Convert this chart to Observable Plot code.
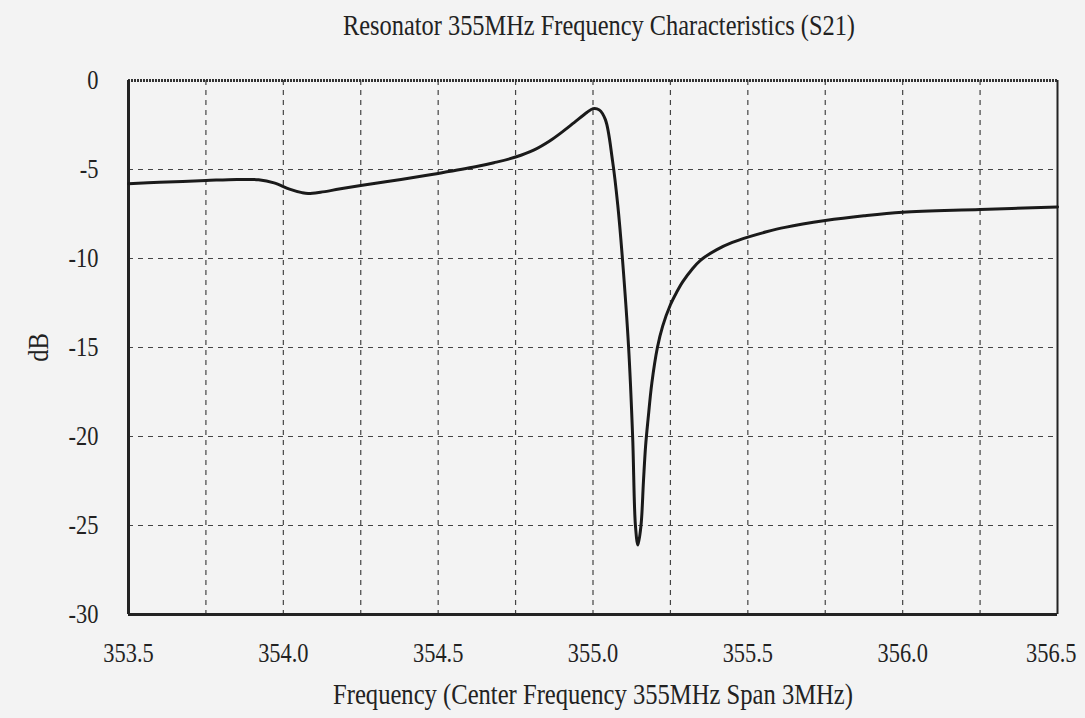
<!DOCTYPE html>
<html>
<head>
<meta charset="utf-8">
<script src="https://cdn.jsdelivr.net/npm/d3@7"></script>
<script src="https://cdn.jsdelivr.net/npm/@observablehq/plot@0.6"></script>
<style>
  html, body { margin: 0; padding: 0; background: #f3f3f3; }
  #wrap { width: 1085px; height: 718px; position: relative; overflow: hidden; }
  #title { position: absolute; left: 343px; top: 8px; white-space: nowrap; display: inline-block;
           transform-origin: left top;
           font-family: "Liberation Serif", serif; font-size: 30px; color: #222; }
  #chart { position: absolute; left: 0; top: 55px; }
</style>
</head>
<body>
<div id="wrap">
  <span id="title">Resonator 355MHz Frequency Characteristics (S21)</span>
  <div id="chart"></div>
</div>
<script>
// Measured S21 response (MHz, dB)
const freq = [353.50, 353.60, 353.75, 353.85, 353.92, 353.97, 354.02, 354.06, 354.08, 354.12,
              354.18, 354.25, 354.38, 354.50, 354.62, 354.68, 354.75, 354.81, 354.86, 354.90,
              354.94, 354.98, 355.00, 355.02, 355.04, 355.063, 355.08, 355.095, 355.115, 355.128,
              355.137, 355.145, 355.155, 355.163, 355.17, 355.178, 355.19, 355.208, 355.225, 355.25,
              355.27, 355.29, 355.32, 355.347, 355.40, 355.45, 355.50, 355.56, 355.62, 355.75,
              355.875, 356.00, 356.25, 356.50];
const db   = [-5.80, -5.72, -5.62, -5.56, -5.58, -5.75, -6.10, -6.30, -6.35, -6.28,
              -6.10, -5.90, -5.56, -5.22, -4.85, -4.62, -4.30, -3.90, -3.40, -2.90,
              -2.35, -1.80, -1.58, -1.65, -2.20, -4.50, -7.00, -10.0, -15.0, -20.0,
              -25.0, -26.1, -25.0, -22.5, -20.5, -19.0, -17.0, -15.0, -13.8, -12.6,
              -11.9, -11.3, -10.6, -10.1, -9.50, -9.10, -8.80, -8.50, -8.25, -7.87,
              -7.60, -7.40, -7.25, -7.10];
const freqTicks = [353.5, 354.0, 354.5, 355.0, 355.5, 356.0, 356.5];
const freqGrid = [353.75, 354.0, 354.25, 354.5, 354.75, 355.0, 355.25, 355.5, 355.75, 356.0, 356.25];
const dbTicks = [0, -5, -10, -15, -20, -25, -30];
const dbGrid = [-5, -10, -15, -20, -25];
const xDomain = [353.5, 356.5];
const yDomain = [-30, 0];
const xLabel = "Frequency (Center Frequency 355MHz Span 3MHz)";
const yLabel = "dB";

const data = freq.map((f, i) => ({f, v: db[i]}));
const fmt = d3.format(".1f");

const plot = Plot.plot({
  width: 1085,
  height: 663,
  marginLeft: 128,
  marginRight: 28,
  marginTop: 25,
  marginBottom: 104,
  style: {background: "transparent", fontFamily: "Liberation Serif, serif", fontSize: "30px", color: "#222"},
  x: {domain: xDomain},
  y: {domain: yDomain},
  marks: [
    Plot.ruleX(freqGrid, {stroke: "#444", strokeWidth: 1.2, strokeDasharray: "5,5"}),
    Plot.ruleY(dbGrid, {stroke: "#444", strokeWidth: 1.2, strokeDasharray: "5,5"}),
    Plot.ruleY([yDomain[1]], {stroke: "#333", strokeWidth: 3, strokeDasharray: "2,1"}),
    Plot.ruleY([yDomain[0]], {stroke: "#222", strokeWidth: 3}),
    Plot.ruleX([xDomain[0]], {stroke: "#222", strokeWidth: 3}),
    Plot.ruleX([xDomain[1]], {stroke: "#222", strokeWidth: 2}),
    Plot.axisX(freqTicks.slice(0, -1), {tickSize: 0, tickPadding: 28, tickFormat: fmt,
      label: xLabel, labelAnchor: "center", labelOffset: 89, labelArrow: "none"}),
    Plot.axisX(freqTicks.slice(-1), {tickSize: 0, tickPadding: 28, tickFormat: fmt,
      label: null, textAnchor: "end", dx: 19}),
    Plot.axisY(dbTicks, {tickSize: 0, tickPadding: 30, tickFormat: d => String(d),
      label: yLabel, labelAnchor: "center", labelOffset: 102, labelArrow: "none"}),
    Plot.line(data, {x: "f", y: "v", stroke: "#1a1a1a", strokeWidth: 3, curve: "catmull-rom"})
  ]
});
document.getElementById("chart").appendChild(plot);
// condensed serif look: squeeze text horizontally
plot.querySelectorAll("text").forEach(t => {
  const txt = t.textContent.trim();
  const isTick = /^-?\d+(\.\d)?$/.test(txt);
  t.setAttribute("font-size", isTick ? "28" : "30");
  const w = t.getComputedTextLength();
  if (w > 0) {
    t.setAttribute("textLength", (w * (isTick ? 0.8 : 0.82)).toFixed(1));
    t.setAttribute("lengthAdjust", "spacingAndGlyphs");
  }
});
const title = document.getElementById("title");
const tw = title.getBoundingClientRect().width;
title.style.transform = `scaleX(${512 / tw})`;
</script>
</body>
</html>
